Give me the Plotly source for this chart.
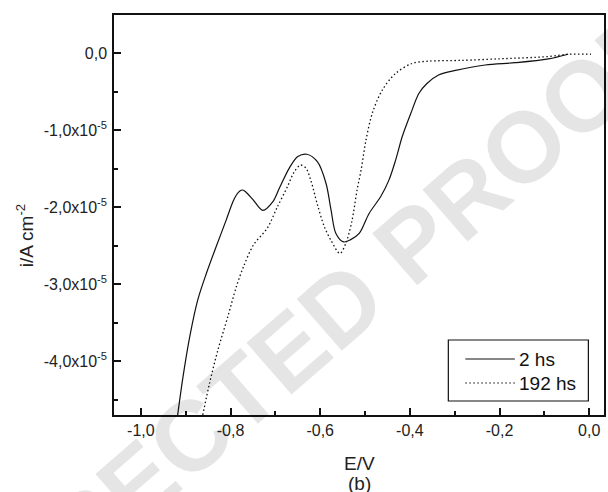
import numpy as np
import plotly.graph_objects as go

# Potentiodynamic polarization curves, current density in units of 1e-5 A cm^-2
series_names = ["2 hs", "192 hs"]

e_2hs = [-0.918, -0.906, -0.891, -0.873, -0.854, -0.832, -0.810, -0.795, -0.787,
         -0.780, -0.773, -0.766, -0.750, -0.728, -0.706, -0.691, -0.669, -0.650,
         -0.630, -0.606, -0.587, -0.576, -0.565, -0.548, -0.532, -0.513, -0.491,
         -0.465, -0.447, -0.432, -0.417, -0.398, -0.380, -0.362, -0.336, -0.298,
         -0.232, -0.165, -0.091, -0.047]
i_2hs = [-4.70, -4.20, -3.68, -3.20, -2.86, -2.51, -2.17, -1.93, -1.84,
         -1.79, -1.775, -1.80, -1.90, -2.04, -1.93, -1.75, -1.49, -1.34,
         -1.31, -1.41, -1.69, -2.03, -2.34, -2.45, -2.42, -2.34, -2.08,
         -1.86, -1.65, -1.39, -1.08, -0.78, -0.52, -0.39, -0.28, -0.22,
         -0.15, -0.12, -0.07, -0.01]

e_192hs = [-0.862, -0.847, -0.828, -0.806, -0.787, -0.771, -0.749, -0.718, -0.696,
           -0.673, -0.658, -0.644, -0.632, -0.621, -0.606, -0.591, -0.576, -0.556,
           -0.543, -0.529, -0.518, -0.509, -0.498, -0.484, -0.462, -0.432, -0.395,
           -0.358, -0.284, -0.202, -0.091, -0.047, 0.004]
i_192hs = [-4.70, -4.29, -3.85, -3.42, -3.03, -2.77, -2.49, -2.27, -2.00,
           -1.73, -1.54, -1.45, -1.49, -1.65, -1.97, -2.25, -2.43, -2.60,
           -2.47, -2.17, -1.78, -1.52, -1.13, -0.78, -0.48, -0.26, -0.13,
           -0.10, -0.09, -0.07, -0.04, -0.01, -0.01]

scale = 1e-5

x_ticks = [-1.0, -0.8, -0.6, -0.4, -0.2, 0.0]
x_ticktext = ["-1,0", "-0,8", "-0,6", "-0,4", "-0,2", "0,0"]
x_minor = [-0.9, -0.7, -0.5, -0.3, -0.1]

y_ticks = [0.0, -1.0, -2.0, -3.0, -4.0]
y_ticktext = ["0,0", "-1,0x10<sup>-5</sup>", "-2,0x10<sup>-5</sup>",
              "-3,0x10<sup>-5</sup>", "-4,0x10<sup>-5</sup>"]
y_minor = [-0.5, -1.5, -2.5, -3.5, -4.5]

FONT = "Liberation Sans, Arial, sans-serif"
INK = "#111111"
TEXT = "#222222"
DOT = "1.5px,2.5px"

fig = go.Figure()
fig.add_trace(go.Scatter(
    x=e_2hs, y=np.array(i_2hs) * scale, mode="lines", name=series_names[0],
    line=dict(color=INK, width=1.2, shape="spline", smoothing=0.9),
    showlegend=False))
fig.add_trace(go.Scatter(
    x=e_192hs, y=np.array(i_192hs) * scale, mode="lines", name=series_names[1],
    line=dict(color=INK, width=1.3, dash=DOT, shape="spline", smoothing=0.9),
    showlegend=False))

axis_common = dict(
    showline=True, linecolor=INK, linewidth=1.5, mirror=True,
    ticks="inside", ticklen=7, tickwidth=1.5, tickcolor=INK,
    showgrid=False, zeroline=False,
    tickfont=dict(family=FONT, size=16, color=TEXT),
)

fig.update_xaxes(
    range=[-1.06, 0.033], tickvals=x_ticks, ticktext=x_ticktext,
    minor=dict(tickvals=x_minor, ticks="inside", ticklen=4, tickwidth=1.5,
               tickcolor=INK),
    **axis_common)
fig.update_yaxes(
    range=[-4.7 * scale, 0.5 * scale], tickvals=np.array(y_ticks) * scale,
    ticktext=y_ticktext, ticklabelstandoff=2,
    minor=dict(tickvals=np.array(y_minor) * scale, ticks="inside", ticklen=4,
               tickwidth=1.5, tickcolor=INK),
    **axis_common)

# Proof watermark
fig.add_annotation(
    text="<b>UNCORRECTED PROOF</b>", xref="paper", yref="paper",
    x=0.215, y=0.01, xanchor="center", yanchor="middle",
    textangle=-41, showarrow=False,
    font=dict(family=FONT, size=100, color="rgba(0,0,0,0.1)"))

# Axis titles
title_font = dict(family=FONT, size=19, color=TEXT)
fig.add_annotation(
    text="i/A cm<sup>-2</sup>", xref="paper", yref="paper",
    x=-0.181, y=0.45, xanchor="center", yanchor="middle",
    textangle=-90, showarrow=False, font=title_font)
fig.add_annotation(
    text="E/V", xref="paper", yref="paper", x=0.5, y=-0.12,
    xanchor="center", yanchor="middle", showarrow=False, font=title_font)
fig.add_annotation(
    text="(b)", xref="paper", yref="paper", x=0.5, y=-0.17,
    xanchor="center", yanchor="middle", showarrow=False, font=title_font)

# Legend box drawn in paper coordinates
lx0, lx1, ly0, ly1 = 0.6823, 0.9681, 0.035, 0.1875
fig.add_shape(type="rect", xref="paper", yref="paper", x0=lx0, x1=lx1, y0=ly0, y1=ly1,
              line=dict(color=INK, width=1.2), fillcolor="white")
legend_rows = [0.14, 0.08]
legend_dash = ["solid", DOT]
for name, yy, dash in zip(series_names, legend_rows, legend_dash):
    fig.add_shape(type="line", xref="paper", yref="paper",
                  x0=0.717, x1=0.818, y0=yy, y1=yy,
                  line=dict(color=INK, width=1.2, dash=dash))
    fig.add_annotation(text=name, xref="paper", yref="paper", x=0.822, y=yy,
                       xanchor="left", yanchor="middle", showarrow=False,
                       font=dict(family=FONT, size=19, color=INK))

fig.update_layout(
    width=608, height=492,
    margin=dict(l=114, r=2, t=15, b=77),
    paper_bgcolor="white", plot_bgcolor="rgba(0,0,0,0)",
)

fig.write_html("out.html")
